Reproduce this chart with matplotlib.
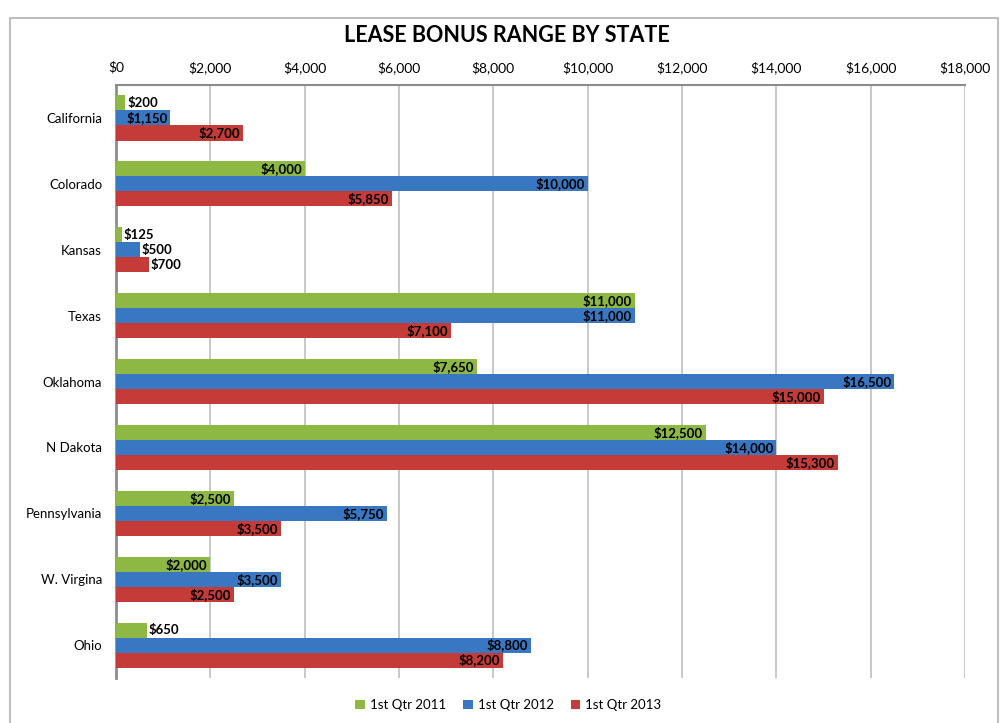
import matplotlib.pyplot as plt
from matplotlib.patches import Rectangle
import numpy as np

plt.rcParams['font.family'] = ['Lato', 'DejaVu Sans']

states = ['California', 'Colorado', 'Kansas', 'Texas', 'Oklahoma',
          'N Dakota', 'Pennsylvania', 'W. Virgina', 'Ohio']
q2011 = [200, 4000, 125, 11000, 7650, 12500, 2500, 2000, 650]
q2012 = [1150, 10000, 500, 11000, 16500, 14000, 5750, 3500, 8800]
q2013 = [2700, 5850, 700, 7100, 15000, 15300, 3500, 2500, 8200]
series_names = ['1st Qtr 2011', '1st Qtr 2012', '1st Qtr 2013']
colors = ['#8DB843', '#3A77C2', '#C43B38']
xticks = np.arange(0, 18001, 2000)

fig = plt.figure(figsize=(10.07, 7.23), dpi=100)
ax = fig.add_axes([0.1152, 0.0622, 0.8431, 0.8202])

# outer chart frame
fig.patches.append(Rectangle((10 / 1007, -0.05), 988 / 1007, 1.05 - 18 / 723,
                             transform=fig.transFigure, fill=False,
                             edgecolor='#BFBFBF', linewidth=1.5))

y = np.arange(len(states))
h = 0.228
for i, (vals, col, name) in enumerate(zip([q2011, q2012, q2013], colors, series_names)):
    pos = y + (i - 1) * h
    ax.barh(pos, vals, height=h, color=col, label=name, zorder=3)
    for p, v in zip(pos, vals):
        txt = '${:,}'.format(v)
        if v >= 1000:
            ax.text(v - 60, p, txt, ha='right', va='center', fontsize=9.5,
                    fontweight='bold', color='black', zorder=4)
        else:
            ax.text(v + 40, p, txt, ha='left', va='center', fontsize=9.5,
                    fontweight='bold', color='black', zorder=4)

ax.set_xlim(0, 18000)
ax.set_ylim(len(states) - 0.5, -0.5)
ax.set_yticks(y)
ax.set_yticklabels(states, fontsize=9.5)
ax.set_xticks(xticks)
ax.set_xticklabels(['${:,}'.format(t) for t in xticks], fontsize=10)
ax.xaxis.tick_top()
ax.tick_params(axis='both', length=0, pad=10)
ax.tick_params(axis='x', pad=8)
ax.grid(axis='x', color='#BFBFBF', linewidth=1.2, zorder=0)
for s in ['right', 'bottom']:
    ax.spines[s].set_visible(False)
ax.spines['top'].set_color('#8C8C8C')
ax.spines['top'].set_linewidth(1.5)
ax.spines['left'].set_color('#8C8C8C')
ax.spines['left'].set_linewidth(2)

fig.text(0.5035, 0.951, 'LEASE BONUS RANGE BY STATE', ha='center', va='center',
         fontsize=15.5, fontweight='bold')

fig.legend(loc='center', bbox_to_anchor=(0.505, 0.025), ncol=3, frameon=False,
           fontsize=9.5, handlelength=0.7, handleheight=0.7, columnspacing=1.3,
           handletextpad=0.4)

fig.savefig('out.png', dpi=100)
